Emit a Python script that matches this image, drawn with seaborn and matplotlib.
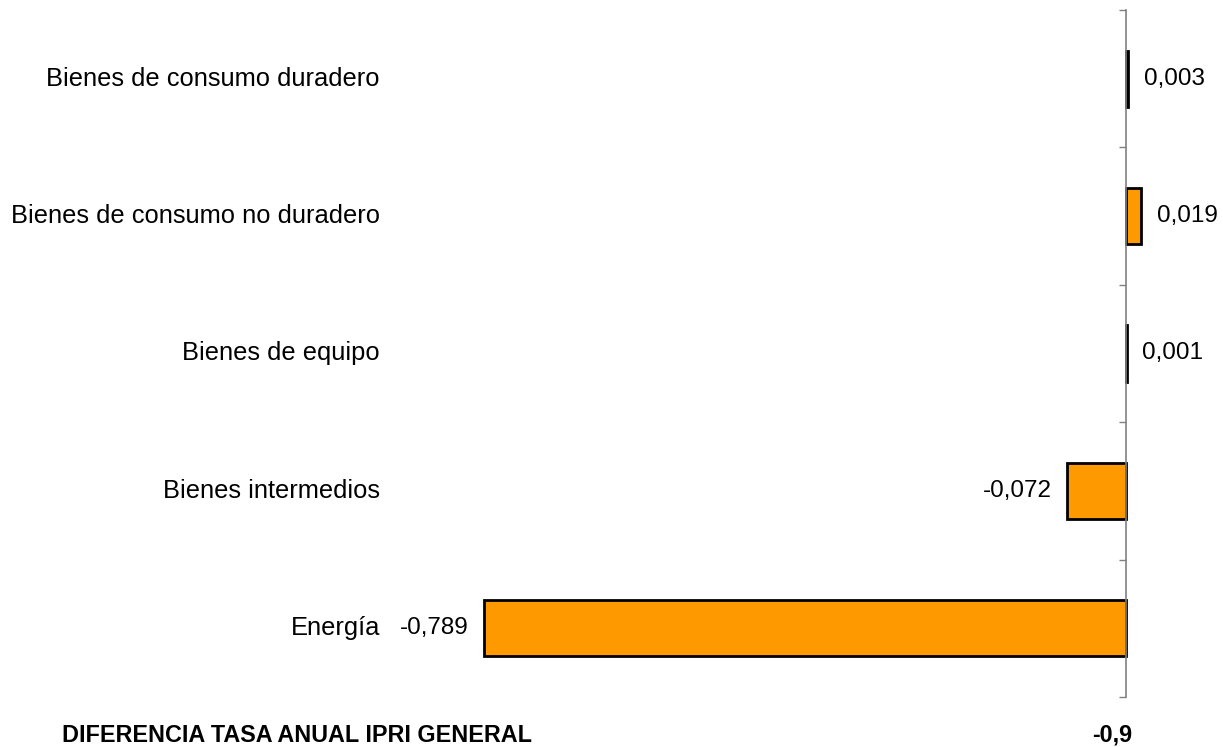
import matplotlib
matplotlib.use("Agg")
import matplotlib.pyplot as plt
import matplotlib.transforms as mtransforms
import seaborn as sns
import pandas as pd

categories = ["Bienes de consumo duradero", "Bienes de consumo no duradero",
              "Bienes de equipo", "Bienes intermedios", "Energía"]
values = [0.003, 0.019, 0.001, -0.072, -0.789]
value_labels = ["0,003", "0,019", "0,001", "-0,072", "-0,789"]
footer_label = "DIFERENCIA TASA ANUAL IPRI GENERAL"
footer_value = "-0,9"

sns.set_style("white")
plt.rcParams["font.family"] = ["Liberation Sans", "DejaVu Sans"]
plt.rcParams["text.color"] = "black"

W, H = 1223, 747
fig = plt.figure(figsize=(W / 100, H / 100), dpi=100)
# zero line at x=1126 px, -0.789 at x=484 px
scale = (1126 - 484) / 0.789
left_px = 393.6
x0 = -(1126 - left_px) / scale
x1 = (W - 1126) / scale
ax = fig.add_axes([left_px / W, 50 / H, (W - left_px) / W, 687 / H])

df = pd.DataFrame({"cat": categories, "val": values})
sns.barplot(data=df, x="val", y="cat", orient="h", color="#FF9900",
            saturation=1, edgecolor="black", linewidth=2, width=0.41, ax=ax)

ax.set_xlim(x0, x1)
ax.set_ylim(4.5, -0.5)
for s in ["top", "right", "bottom"]:
    ax.spines[s].set_visible(False)
ax.spines["left"].set_position(("data", 0))
ax.spines["left"].set_color("#808080")
ax.spines["left"].set_linewidth(1.2)
ax.set_xticks([])
ax.set_yticks([-0.5, 0.5, 1.5, 2.5, 3.5, 4.5])
ax.set_yticklabels([])
ax.tick_params(axis="y", direction="out", length=5, width=1, color="#808080", left=True)
ax.set_xlabel("")
ax.set_ylabel("")

# category labels
trans = mtransforms.blended_transform_factory(fig.transFigure, ax.transData)
for i, c in enumerate(categories):
    ax.text(380 / W, i, c, transform=trans, ha="right", va="center",
            fontsize=18.4, color="black")

# value labels
for i, (v, lab) in enumerate(zip(values, value_labels)):
    if v >= 0:
        ax.annotate(lab, (v, i), xytext=(11, 0), textcoords="offset points",
                    ha="left", va="center", fontsize=17.5, color="black")
    else:
        ax.annotate(lab, (v, i), xytext=(-11, 0), textcoords="offset points",
                    ha="right", va="center", fontsize=17.5, color="black")

fig.text(62 / W, 1 - 735 / H, footer_label, ha="left", va="center",
         fontsize=16.8, fontweight="bold", color="black")
fig.text(1112 / W, 1 - 735 / H, footer_value, ha="center", va="center",
         fontsize=16.8, fontweight="bold", color="black")

fig.savefig("out.png", dpi=100)
